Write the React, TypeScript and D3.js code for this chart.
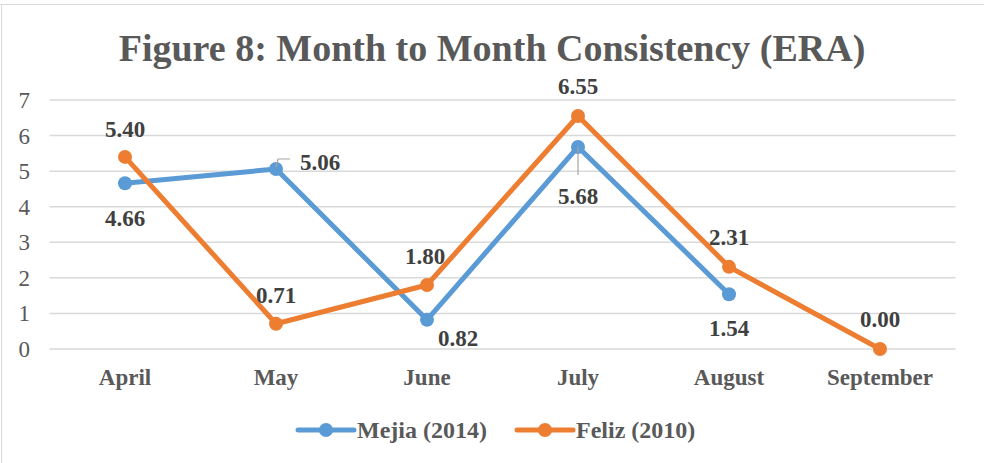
import React from "react";
import * as d3 from "d3";

const categories = ["April", "May", "June", "July", "August", "September"];
const mejia: (number | null)[] = [4.66, 5.06, 0.82, 5.68, 1.54, null];
const feliz: (number | null)[] = [5.4, 0.71, 1.8, 6.55, 2.31, 0.0];
const yTicks = [0, 1, 2, 3, 4, 5, 6, 7];
const seriesNames = ["Mejia (2014)", "Feliz (2010)"];
const colors = ["#5B9BD5", "#ED7D31"];

const mejiaLabelPos = [
  { dx: 0, dy: 43, leader: false },
  { dx: 44, dy: 1, leader: true },
  { dx: 31, dy: 26, leader: false },
  { dx: 0, dy: 57, leader: true },
  { dx: 0, dy: 42, leader: false },
  null,
];
const felizLabelPos = [
  { dx: 0, dy: -20 },
  { dx: 0, dy: -21 },
  { dx: -2, dy: -21 },
  { dx: 0, dy: -22 },
  { dx: 0, dy: -22 },
  { dx: 0, dy: -22 },
];

export default function App() {
  const W = 984;
  const H = 463;
  const left = 49.5;
  const right = 955.5;
  const top = 100;
  const bottom = 349;

  const x = d3.scaleBand().domain(categories).range([left, right]);
  const y = d3.scaleLinear().domain([0, 7]).range([bottom, top]);
  const cx = (c: string) => (x(c) as number) + x.bandwidth() / 2;

  const line = d3
    .line<[string, number | null]>()
    .defined((d) => d[1] !== null)
    .x((d) => cx(d[0]))
    .y((d) => y(d[1] as number));

  const series = [mejia, feliz];
  const font = "'Liberation Serif', 'Times New Roman', serif";

  return (
    <svg width={W} height={H} style={{ position: "absolute", left: 0, top: 0 }} fontFamily={font}>
      <rect x={0} y={0} width={W} height={H} fill="#fff" />
      <line x1={0} y1={4.5} x2={W} y2={4.5} stroke="#D9D9D9" strokeWidth={1} />
      <line x1={1.5} y1={4} x2={1.5} y2={H} stroke="#D9D9D9" strokeWidth={1} />
      <text x={492} y={61} textAnchor="middle" fontSize={38} fontWeight="bold" fill="#595959">
        Figure 8: Month to Month Consistency (ERA)
      </text>
      {yTicks.map((t) => (
        <g key={t}>
          <line x1={left} x2={right} y1={y(t)} y2={y(t)} stroke="#D9D9D9" strokeWidth={1.5} />
          <text x={30} y={y(t) + 8} textAnchor="end" fontSize={23} fill="#595959">
            {t}
          </text>
        </g>
      ))}
      {categories.map((c) => (
        <text key={c} x={cx(c)} y={385} textAnchor="middle" fontSize={23} fontWeight="bold" fill="#595959">
          {c}
        </text>
      ))}
      {series.map((s, i) => (
        <g key={i}>
          <path
            d={line(categories.map((c, j) => [c, s[j]]) as [string, number | null][]) || ""}
            fill="none"
            stroke={colors[i]}
            strokeWidth={5}
            strokeLinejoin="round"
          />
          {s.map((v, j) =>
            v === null ? null : (
              <circle key={j} cx={cx(categories[j])} cy={y(v)} r={7} fill={colors[i]} />
            )
          )}
        </g>
      ))}
      {mejia.map((v, j) => {
        const p = mejiaLabelPos[j];
        if (v === null || !p) return null;
        const px = cx(categories[j]);
        const py = y(v);
        return (
          <g key={"m" + j}>
            {p.leader && p.dx > 0 && (
              <polyline
                points={`${px},${py - 2} ${px + 2},${py - 10} ${px + 14},${py - 10}`}
                fill="none"
                stroke="#A6A6A6"
                strokeWidth={1.2}
              />
            )}
            {p.leader && p.dx === 0 && (
              <line x1={px} y1={py} x2={px} y2={py + 28} stroke="#A6A6A6" strokeWidth={1.2} />
            )}
            <text
              x={px + p.dx}
              y={py + p.dy}
              textAnchor="middle"
              fontSize={23}
              fontWeight="bold"
              fill="#404040"
            >
              {v.toFixed(2)}
            </text>
          </g>
        );
      })}
      {feliz.map((v, j) => {
        const p = felizLabelPos[j];
        if (v === null || !p) return null;
        const px = cx(categories[j]);
        const py = y(v);
        return (
          <text
            key={"f" + j}
            x={px + p.dx}
            y={py + p.dy}
            textAnchor="middle"
            fontSize={23}
            fontWeight="bold"
            fill="#404040"
          >
            {v.toFixed(2)}
          </text>
        );
      })}
      {seriesNames.map((n, i) => {
        const lx = i === 0 ? 298 : 517;
        return (
          <g key={n}>
            <line x1={lx} x2={lx + 56} y1={430} y2={430} stroke={colors[i]} strokeWidth={5} strokeLinecap="round" />
            <circle cx={lx + 28} cy={430} r={7} fill={colors[i]} />
            <text x={lx + 59} y={438} fontSize={24} fontWeight="bold" fill="#595959">
              {n}
            </text>
          </g>
        );
      })}
    </svg>
  );
}
